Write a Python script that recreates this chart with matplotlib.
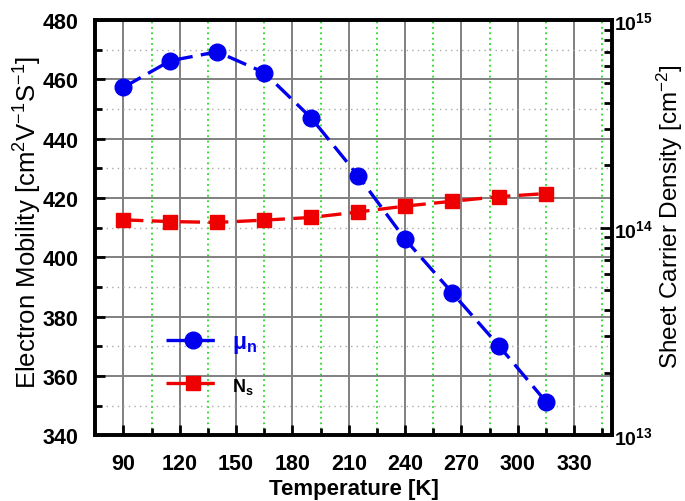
import numpy as np
import matplotlib
matplotlib.use("Agg")
from matplotlib import pyplot as plt
from matplotlib.ticker import MultipleLocator, LogLocator, FixedLocator

plt.rcParams['font.family'] = ['Liberation Sans', 'DejaVu Sans']
plt.rcParams['mathtext.fontset'] = 'custom'
plt.rcParams['mathtext.rm'] = 'Liberation Sans'
plt.rcParams['mathtext.it'] = 'Liberation Sans:italic'
plt.rcParams['mathtext.bf'] = 'Liberation Sans:bold'

# data
temperature = [90, 115, 140, 165, 190, 215, 240, 265, 290, 315]
mobility = [457.3, 466.3, 469.3, 462.3, 447.0, 427.5, 406.1, 388.1, 370.1, 351.3]
sheet_density = [1.09e14, 1.07e14, 1.06e14, 1.087e14, 1.12e14, 1.19e14,
                 1.27e14, 1.34e14, 1.41e14, 1.46e14]

fig = plt.figure(figsize=(6.85, 5.02), dpi=100)
ax = fig.add_subplot(111)
fig.subplots_adjust(left=0.139, right=0.893, bottom=0.131, top=0.958)

# grid
ax.set_xlim(75, 350)
ax.set_ylim(340, 480)
ax.xaxis.set_major_locator(FixedLocator(np.arange(90, 331, 30)))
ax.xaxis.set_minor_locator(FixedLocator(np.arange(105, 346, 30)))
ax.yaxis.set_major_locator(MultipleLocator(20))
ax.yaxis.set_minor_locator(MultipleLocator(10))
ax.grid(which='major', axis='both', color='#808080', linestyle='-', linewidth=1.4)
ax.grid(which='minor', axis='x', color='#22dd22', linestyle=(0, (1, 2)), linewidth=1.3)
ax.grid(which='minor', axis='y', color='#aaaaaa', linestyle=(0, (1, 3)), linewidth=1.0)
ax.set_axisbelow(True)

l1, = ax.plot(temperature, mobility, color='#0000ee', linestyle=(0, (6, 2.5)),
              linewidth=2.4, marker='o', markersize=12, label=r'μ$_\mathbf{n}$', zorder=3)

ax.tick_params(axis='both', which='both', direction='in', width=2, labelsize=15.5)
ax.tick_params(axis='both', which='major', length=7)
ax.tick_params(axis='both', which='minor', length=5)
ax.tick_params(axis='x', pad=13)
ax.tick_params(axis='y', pad=12)
ax.tick_params(right=False)
for lab in ax.get_xticklabels() + ax.get_yticklabels():
    lab.set_fontweight('bold')

ax.set_xlabel('Temperature [K]', fontsize=16, fontweight='bold', labelpad=3)
fig.text(28 / 685, 1 - 222 / 502, r'Electron Mobility [cm$^2$V$^{-1}$S$^{-1}$]',
         fontsize=18.5, rotation=90, ha='center', va='center')

# right axis
ax2 = ax.twinx()
ax2.set_yscale('log')
ax2.set_ylim(1e13, 1e15)
ax2.yaxis.set_minor_locator(LogLocator(base=10, subs=np.arange(2, 10), numticks=20))
ax2.set_yticks([1e13, 1e14, 1e15])
ax2.set_yticklabels([r'$\mathbf{10^{13}}$', r'$\mathbf{10^{14}}$', r'$\mathbf{10^{15}}$'])
ax2.tick_params(axis='y', which='both', direction='in', width=2, labelsize=14)
ax2.tick_params(axis='y', which='major', length=9, pad=2)
ax2.tick_params(axis='y', which='minor', length=6)

l2, = ax2.plot(temperature, sheet_density, color='#ee0000', linestyle=(0, (6, 2.5)),
               linewidth=2.4, marker='s', markersize=10, label=r'N$_\mathbf{s}$', zorder=3)
fig.text(670 / 685, 1 - 217 / 502, r'Sheet Carrier Density [cm$^{-2}$]',
         fontsize=17.5, rotation=90, ha='center', va='center')

for a in (ax, ax2):
    for s in a.spines.values():
        s.set_linewidth(2.6)

leg = ax2.legend(handles=[l1, l2], loc='center left', bbox_to_anchor=(0.10, 0.175),
                 frameon=False, fontsize=15, handlelength=2.6, labelspacing=1.0,
                 handletextpad=0.6)
leg.get_texts()[0].set_color('#0000ee')
leg.get_texts()[0].set_fontweight('bold')
leg.get_texts()[0].set_fontsize(16.5)
leg.get_texts()[1].set_fontweight('bold')
leg.get_texts()[1].set_fontsize(13)

fig.savefig('out.png', dpi=100)
